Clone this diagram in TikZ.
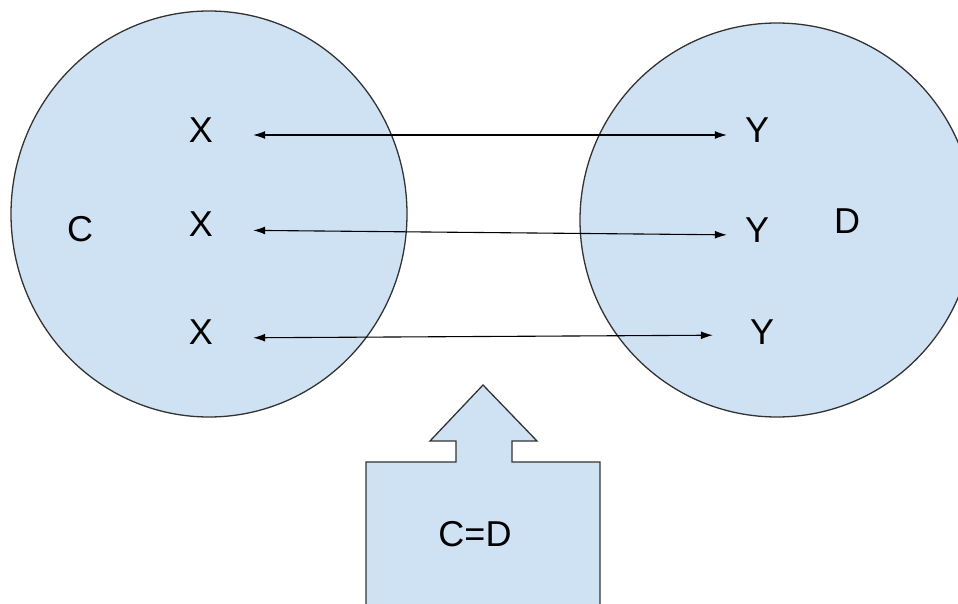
\documentclass[tikz,border=0pt]{standalone}
\usepackage{fontspec}
\setmainfont{Liberation Sans}
\usetikzlibrary{arrows.meta,shapes}
\definecolor{setblue}{HTML}{CFE2F3}
\tikzstyle{setcircle}=[ellipse,draw=black!80,fill=setblue,line width=1.3pt,inner sep=0pt]
\tikzstyle{elem}=[inner sep=0pt,font=\fontsize{36}{43}\selectfont]
\tikzstyle{link} = [draw,line width=1.1pt,{Latex[length=12pt,width=8pt]}-{Latex[length=12pt,width=8pt]}]

\begin{document}
\begin{tikzpicture}[x=1pt,y=-1pt]
    \useasboundingbox (0,0) rectangle (958,604);
    \clip (0,0) rectangle (958,604);

    \node[setcircle, minimum width=396pt, minimum height=406pt] (setc) at (209,214) {};
    \node[setcircle, minimum width=394pt, minimum height=394pt] (setd) at (777,220) {};

    \node[elem] (c) at (80,229) {C};
    \node[elem] (d) at (847,221) {D};

    \foreach \pos/\name in {{(201,130)/x1}, {(201,224)/x2}, {(201,332)/x3}}
        \node[elem] (\name) at \pos {X};
    \foreach \pos/\name in {{(757,130)/y1}, {(757,230)/y2}, {(762,332)/y3}}
        \node[elem] (\name) at \pos {Y};

    \foreach \i/\sa/\sb/\gap in {1/5/5/18, 2/6/5/18, 3/6/3/37}
        \path[link, shorten <=40pt, shorten >=\gap pt] ([yshift=-\sa pt]x\i.east) -- ([yshift=-\sb pt]y\i.west);

    % box with arrow pointing up
    \draw[draw=black!80, fill=setblue, line width=1.3pt]
        (366,610) -- (366,462) -- (456,462) -- (456,441) -- (430,441) -- (483,385)
        -- (537,441) -- (512,441) -- (512,462) -- (600,462) -- (600,610);
    \node[elem] (eq) at (475,534) {C=D};

\end{tikzpicture}
\end{document}
